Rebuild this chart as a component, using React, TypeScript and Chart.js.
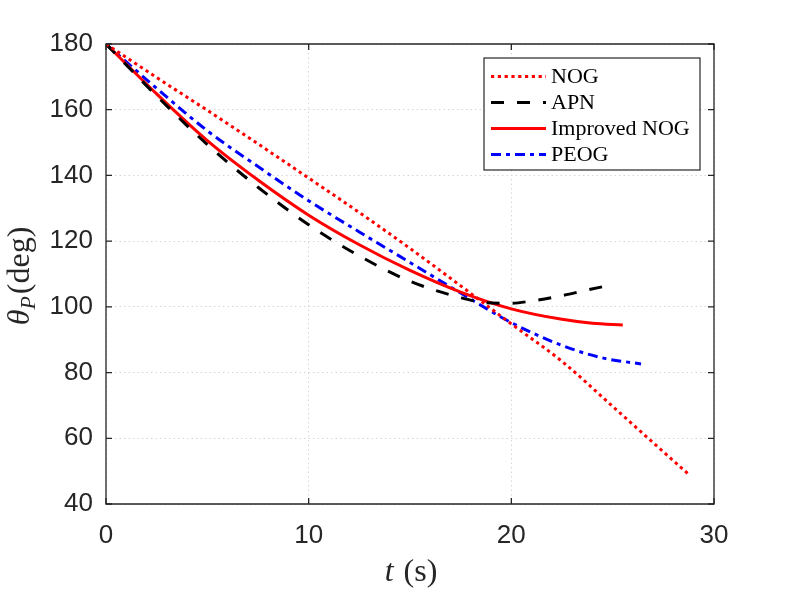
import React, { useEffect, useRef } from 'react';
import { Chart, registerables } from 'chart.js';

Chart.register(...registerables);

// values (time in s, angle in deg)
const nogT = [0, 2.5, 5, 7.5, 10, 12.5, 15, 17.5, 20, 22.5, 25, 26.5, 28.7];
const nogDeg = [180, 169.8, 159.8, 149.6, 139.2, 128.7, 117.8, 106.4, 94.8, 83.4, 69.7, 61.4, 49.3];

const apnT = [0, 2.5, 5, 7.5, 10, 12.5, 15, 17.5, 18.7, 20, 21, 22.4, 23.8, 25.1];
const apnDeg = [180, 164.2, 149.4, 136.4, 125, 115.5, 107.8, 102.8, 101.3, 101.1, 101.8, 103.3, 105.2, 106.9];

const inogT = [0, 2.5, 5, 7.5, 10, 12.5, 15, 17.5, 20, 22.5, 24, 25.5];
const inogDeg = [180, 164.8, 150.6, 138.6, 127.9, 118.9, 111.1, 104.5, 99.4, 96.2, 95, 94.5];

const peogT = [0, 2.5, 5, 7.5, 10, 12.5, 15, 17.5, 20, 22.4, 24.4, 26.4];
const peogDeg = [180, 166.5, 153.6, 142.7, 132.3, 122.8, 113.5, 104.2, 95.2, 88.5, 84.6, 82.6];

const xTicks = [0, 10, 20, 30];
const yTicks = [40, 60, 80, 100, 120, 140, 160, 180];

const axisColor = '#262626';

const pts = (t: number[], v: number[]) => t.map((x, i) => ({ x, y: v[i] }));

// MATLAB-style box: top/right lines, inward ticks on all sides, boxed legend
const framePlugin = {
  id: 'frame',
  afterDatasetsDraw(chart: any) {
    const { ctx, chartArea: a, scales } = chart;
    ctx.save();
    ctx.strokeStyle = axisColor;
    ctx.lineWidth = 1.3;
    ctx.setLineDash([]);
    ctx.beginPath();
    ctx.rect(a.left, a.top, a.right - a.left, a.bottom - a.top);
    ctx.stroke();
    const len = 6;
    ctx.beginPath();
    xTicks.forEach((v) => {
      const x = scales.x.getPixelForValue(v);
      ctx.moveTo(x, a.bottom);
      ctx.lineTo(x, a.bottom - len);
      ctx.moveTo(x, a.top);
      ctx.lineTo(x, a.top + len);
    });
    yTicks.forEach((v) => {
      const y = scales.y.getPixelForValue(v);
      ctx.moveTo(a.left, y);
      ctx.lineTo(a.left + len, y);
      ctx.moveTo(a.right, y);
      ctx.lineTo(a.right - len, y);
    });
    ctx.stroke();

    // legend box
    const w = 216;
    const h = 112;
    const x0 = a.right - 14 - w;
    const y0 = a.top + 14;
    ctx.fillStyle = '#ffffff';
    ctx.fillRect(x0, y0, w, h);
    ctx.lineWidth = 1.2;
    ctx.strokeRect(x0, y0, w, h);
    chart.data.datasets.forEach((ds: any, i: number) => {
      const y = y0 + 18.5 + i * 26;
      ctx.beginPath();
      ctx.setLineDash(ds.borderDash || []);
      ctx.strokeStyle = ds.borderColor;
      ctx.lineWidth = ds.borderWidth;
      ctx.moveTo(x0 + 7, y);
      ctx.lineTo(x0 + 62, y);
      ctx.stroke();
      ctx.setLineDash([]);
      ctx.fillStyle = '#000000';
      ctx.font = '22px "Liberation Serif", "Times New Roman", serif';
      ctx.textBaseline = 'middle';
      ctx.textAlign = 'left';
      ctx.fillText(ds.label, x0 + 67, y + 1);
    });
    ctx.restore();
  },
  afterDraw(chart: any) {
    const { ctx, chartArea: a } = chart;
    const serif = '"Liberation Serif", "Times New Roman", serif';
    ctx.save();
    ctx.fillStyle = axisColor;
    ctx.textBaseline = 'alphabetic';
    ctx.textAlign = 'left';

    // x title: t (s)
    const itFont = `italic 32px ${serif}`;
    const rmFont = `32px ${serif}`;
    ctx.font = itFont;
    const wt = ctx.measureText('t').width;
    ctx.font = rmFont;
    const ws = ctx.measureText(' (s)').width;
    let x = (a.left + a.right) / 2 - (wt + ws) / 2;
    ctx.font = itFont;
    ctx.fillText('t', x, 581);
    ctx.font = rmFont;
    ctx.fillText(' (s)', x + wt + 2, 581);

    // y title: θ_P(deg)
    ctx.translate(29, (a.top + a.bottom) / 2 + 2);
    ctx.rotate(-Math.PI / 2);
    const subFont = `italic 22px ${serif}`;
    ctx.font = itFont;
    const wth = ctx.measureText('θ').width;
    ctx.font = subFont;
    const wp = ctx.measureText('P').width;
    ctx.font = rmFont;
    const wd = ctx.measureText('(deg)').width;
    x = -(wth + wp + wd + 2) / 2;
    ctx.font = itFont;
    ctx.fillText('θ', x, 0);
    ctx.font = subFont;
    ctx.fillText('P', x + wth, 6);
    ctx.font = rmFont;
    ctx.fillText('(deg)', x + wth + wp + 2, 0);
    ctx.restore();
  },
};

const App: React.FC = () => {
  const canvasRef = useRef<HTMLCanvasElement>(null);

  useEffect(() => {
    if (!canvasRef.current) return;
    const tickFont = { family: '"Liberation Sans", Arial, sans-serif', size: 26 };
    const chart = new Chart(canvasRef.current, {
      type: 'line',
      data: {
        datasets: [
          {
            label: 'NOG',
            data: pts(nogT, nogDeg),
            borderColor: '#ff0000',
            borderWidth: 3,
            borderDash: [3.2, 3.6],
            pointRadius: 0,
            cubicInterpolationMode: 'monotone',
          },
          {
            label: 'APN',
            data: pts(apnT, apnDeg),
            borderColor: '#000000',
            borderWidth: 3,
            borderDash: [13, 13],
            pointRadius: 0,
            cubicInterpolationMode: 'monotone',
          },
          {
            label: 'Improved NOG',
            data: pts(inogT, inogDeg),
            borderColor: '#ff0000',
            borderWidth: 3,
            pointRadius: 0,
            cubicInterpolationMode: 'monotone',
          },
          {
            label: 'PEOG',
            data: pts(peogT, peogDeg),
            borderColor: '#0000ff',
            borderWidth: 3,
            borderDash: [10, 5, 4, 5],
            pointRadius: 0,
            cubicInterpolationMode: 'monotone',
          },
        ],
      },
      options: {
        animation: false,
        responsive: true,
        maintainAspectRatio: false,
        layout: { padding: { left: 0, top: 44, right: 75, bottom: 0 } },
        plugins: { legend: { display: false }, tooltip: { enabled: false } },
        scales: {
          x: {
            type: 'linear',
            min: 0,
            max: 30,
            afterBuildTicks: (s: any) => {
              s.ticks = xTicks.map((value) => ({ value }));
            },
            afterFit: (s: any) => {
              s.height = 88;
            },
            grid: { color: '#d6d6d6', lineWidth: 1, drawTicks: false },
            border: { display: false, dash: [1.5, 3] },
            ticks: { color: axisColor, font: tickFont, padding: 16, maxRotation: 0 },
          },
          y: {
            type: 'linear',
            min: 40,
            max: 180,
            afterBuildTicks: (s: any) => {
              s.ticks = yTicks.map((value) => ({ value }));
            },
            afterFit: (s: any) => {
              s.width = 106;
            },
            grid: { color: '#d6d6d6', lineWidth: 1, drawTicks: false },
            border: { display: false, dash: [1.5, 3] },
            ticks: { color: axisColor, font: tickFont, padding: 13 },
          },
        },
      },
      plugins: [framePlugin],
    });
    return () => {
      chart.destroy();
    };
  }, []);

  return (
    <div style={{ position: 'absolute', left: 0, top: 0, width: 789, height: 592, background: '#fff' }}>
      <canvas ref={canvasRef} />
    </div>
  );
};

export default App;
